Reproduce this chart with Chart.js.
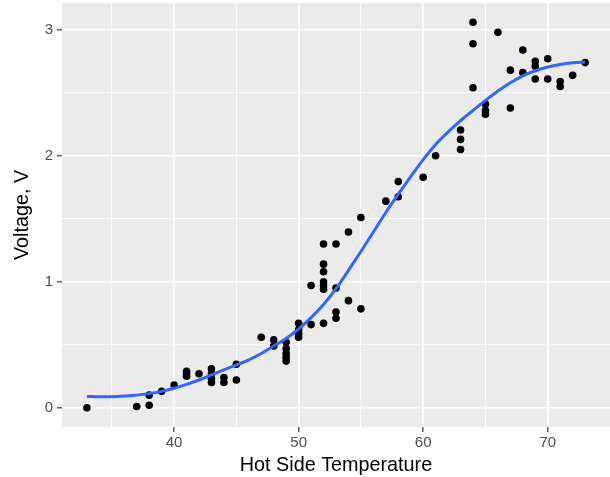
<!DOCTYPE html>
<html>
<head>
<meta charset="utf-8">
<script src="https://cdn.jsdelivr.net/npm/chart.js@4"></script>
<style>
  body { margin: 0; background: #fff; }
  canvas { display: block; }
</style>
</head>
<body>
<canvas id="myChart" width="610" height="477"></canvas>
<script>
// measured points
var tempX = [33, 37, 38, 38, 39, 40, 41, 41, 41, 42, 43, 43, 43, 43, 44, 44, 45, 45, 47, 48, 48,
    49, 49, 49, 49, 49, 50, 50, 50, 50, 51, 51, 52, 52, 52, 52, 52, 52, 52, 53, 53, 53, 53,
    54, 54, 55, 55, 57, 58, 58, 60, 61, 63, 63, 63, 64, 64, 64, 65, 65, 65, 66, 67, 67,
    68, 68, 69, 69, 69, 70, 70, 71, 71, 72, 73];
var voltY = [0, 0.01, 0.02, 0.10, 0.13, 0.18, 0.29, 0.27, 0.25, 0.27, 0.31, 0.27, 0.23, 0.20, 0.24, 0.20, 0.345, 0.22, 0.56, 0.54, 0.49,
    0.52, 0.47, 0.43, 0.40, 0.37, 0.67, 0.62, 0.59, 0.56, 0.97, 0.66, 1.30, 1.14, 1.08, 1.00, 0.97, 0.94, 0.67, 1.30, 0.95, 0.76, 0.71,
    1.395, 0.85, 1.51, 0.785, 1.64, 1.795, 1.675, 1.83, 2.00, 2.205, 2.13, 2.05, 3.06, 2.89, 2.54, 2.41, 2.36, 2.33, 2.98, 2.68, 2.38,
    2.84, 2.66, 2.75, 2.71, 2.61, 2.77, 2.61, 2.59, 2.55, 2.64, 2.74];

// smooth curve
var smoothX = [33, 34, 35, 36, 37, 38, 39, 40, 41, 42, 43, 44, 45, 46, 47, 48, 49, 50, 51, 52, 53,
    54, 55, 56, 57, 58, 59, 60, 61, 62, 63, 64, 65, 66, 67, 68, 69, 70, 71, 72, 73];
var smoothY = [0.09, 0.087, 0.088, 0.093, 0.10, 0.112, 0.13, 0.155, 0.185, 0.22, 0.26, 0.30, 0.34, 0.38, 0.43, 0.49, 0.55, 0.625, 0.715, 0.82, 0.945,
    1.09, 1.24, 1.395, 1.55, 1.695, 1.835, 1.97, 2.09, 2.19, 2.28, 2.36, 2.44, 2.515, 2.58, 2.635, 2.675, 2.705, 2.725, 2.738, 2.745];

var xTicks = [35, 40, 45, 50, 55, 60, 65, 70, 75];
var yTicks = [0, 0.5, 1, 1.5, 2, 2.5, 3];

var fontFamily = '"Liberation Sans", Arial, Helvetica, sans-serif';

var points = tempX.map(function(x, i) {
    return { x: x, y: voltY[i] };
});
var curve = smoothX.map(function(x, i) {
    return { x: x, y: smoothY[i] };
});

function isMajor(ctx, step) {
    var v = ctx.tick ? ctx.tick.value : 0;
    return Math.abs(v / step - Math.round(v / step)) < 1e-6;
}

// no extra room for the end labels, the panel goes to the edges
function noPadding(scale) {
    scale.paddingTop = 0;
    scale.paddingBottom = 0;
    scale.paddingLeft = 0;
    scale.paddingRight = 0;
}

var panelBg = {
    id: 'panelBg',
    beforeDraw: function(chart) {
        var a = chart.chartArea;
        var c = chart.ctx;
        c.save();
        c.fillStyle = '#EBEBEB';
        c.fillRect(a.left, a.top, a.right - a.left, a.bottom - a.top);
        c.restore();
    }
};

var config = {
    type: 'scatter',
    data: {
        datasets: [{
            type: 'line',
            data: curve,
            borderColor: '#3366FF',
            borderWidth: 3,
            pointRadius: 0,
            fill: false,
            cubicInterpolationMode: 'monotone',
            order: 0
        }, {
            data: points,
            backgroundColor: '#000000',
            borderWidth: 0,
            pointRadius: 3.8,
            order: 1
        }]
    },
    plugins: [panelBg],
    options: {
        responsive: false,
        animation: false,
        layout: { autoPadding: false, padding: { top: 3, right: 0, left: 0, bottom: 0 } },
        plugins: {
            legend: { display: false },
            tooltip: { enabled: false }
        },
        scales: {
            x: {
                type: 'linear',
                min: 31,
                max: 75,
                afterBuildTicks: function(scale) {
                    scale.ticks = xTicks.map(function(v) { return { value: v }; });
                },
                afterFit: function(scale) {
                    scale.height = 50;
                    noPadding(scale);
                },
                border: { display: false },
                grid: {
                    color: '#FFFFFF',
                    lineWidth: function(ctx) { return isMajor(ctx, 10) ? 1.6 : 0.8; },
                    tickColor: function(ctx) { return isMajor(ctx, 10) ? '#333333' : 'rgba(0,0,0,0)'; },
                    tickWidth: 1.2,
                    tickLength: 5
                },
                ticks: {
                    color: '#4D4D4D',
                    font: { family: fontFamily, size: 15 },
                    padding: 2,
                    maxRotation: 0,
                    autoSkip: false,
                    callback: function(v) { return v % 10 === 0 ? String(v) : ''; }
                },
                title: {
                    display: true,
                    text: 'Hot Side Temperature',
                    color: '#000000',
                    font: { family: fontFamily, size: 19.8 },
                    padding: { top: 0, bottom: 0 }
                }
            },
            y: {
                type: 'linear',
                min: -0.153,
                max: 3.213,
                afterBuildTicks: function(scale) {
                    scale.ticks = yTicks.map(function(v) { return { value: v }; });
                },
                afterFit: function(scale) {
                    scale.width = 62;
                    noPadding(scale);
                },
                border: { display: false },
                grid: {
                    color: '#FFFFFF',
                    lineWidth: function(ctx) { return isMajor(ctx, 1) ? 1.6 : 0.8; },
                    tickColor: function(ctx) { return isMajor(ctx, 1) ? '#333333' : 'rgba(0,0,0,0)'; },
                    tickWidth: 1.2,
                    tickLength: 5
                },
                ticks: {
                    color: '#4D4D4D',
                    font: { family: fontFamily, size: 15 },
                    padding: 4,
                    autoSkip: false,
                    callback: function(v) { return Math.abs(v - Math.round(v)) < 1e-6 ? String(Math.round(v)) : ''; }
                },
                title: {
                    display: true,
                    text: 'Voltage, V',
                    color: '#000000',
                    font: { family: fontFamily, size: 19.8 },
                    padding: { top: 11, bottom: 0 }
                }
            }
        }
    }
};

new Chart(document.getElementById('myChart').getContext('2d'), config);
</script>
</body>
</html>
